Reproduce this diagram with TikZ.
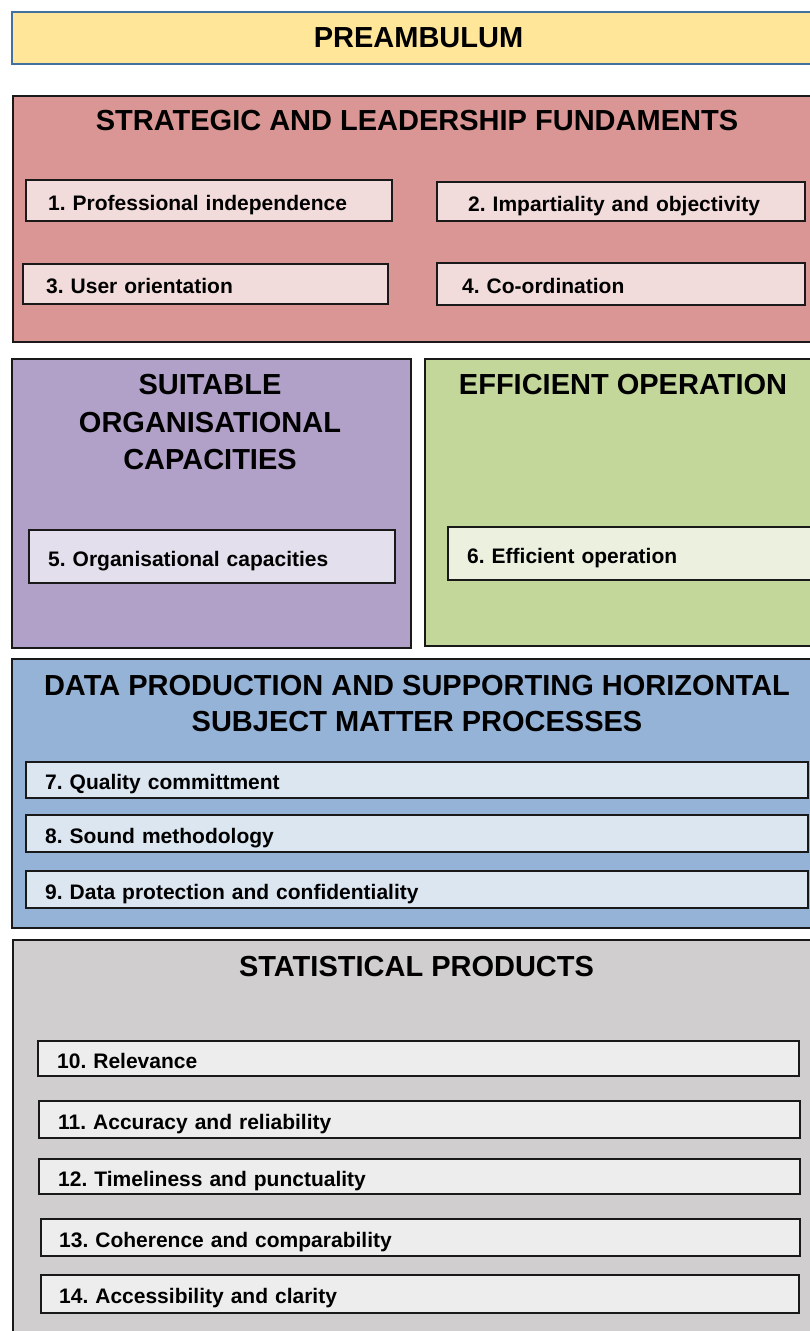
\documentclass[tikz,border=0pt]{standalone}
\usepackage{fontspec}
\setmainfont{Liberation Sans}
\frenchspacing

\definecolor{pre_fill}{HTML}{FFE699}
\definecolor{pre_line}{HTML}{41719C}
\definecolor{strat_fill}{HTML}{DA9694}
\definecolor{strat_item}{HTML}{F2DCDB}
\definecolor{suit_fill}{HTML}{B1A0C7}
\definecolor{suit_item}{HTML}{E4DFEC}
\definecolor{eff_fill}{HTML}{C4D79B}
\definecolor{eff_item}{HTML}{EBF1DE}
\definecolor{data_fill}{HTML}{95B3D7}
\definecolor{data_item}{HTML}{DCE6F1}
\definecolor{stat_fill}{HTML}{D0CECE}
\definecolor{stat_item}{HTML}{EDEDED}

\begin{document}
\begin{tikzpicture}[x=1pt,y=-1pt]
	\tikzstyle{panel_style} = [rectangle,draw=black!90,line width=2.7pt,anchor=north west,inner sep=0pt]
	\tikzstyle{item_style} = [rectangle,draw=black!90,line width=2.4pt,anchor=north west,align=left,inner ysep=0pt,inner xsep=19pt,text height=20pt,text depth=0pt,font=\bfseries\frenchspacing\fontsize{21}{25}\selectfont]
	\tikzstyle{title_style} = [align=center,font=\bfseries\fontsize{29}{37.5}\selectfont]
	\useasboundingbox (0,0) rectangle (810,1331);
	\clip (0,0) rectangle (810,1331);
	% panels
	\node[panel_style,draw=pre_line,line width=2pt,fill=pre_fill,minimum width=813pt,minimum height=52pt,font=\bfseries\fontsize{29}{35}\selectfont] (preamb) at (11,11) {PREAMBULUM};
	\node[panel_style,fill=strat_fill,minimum width=812pt,minimum height=246pt] (strat) at (11.5,94.5) {};
	\node[panel_style,fill=suit_fill,minimum width=399pt,minimum height=289pt] (suit) at (10.5,357.5) {};
	\node[panel_style,fill=eff_fill,minimum width=400pt,minimum height=287pt] (eff) at (423.5,357.5) {};
	\node[panel_style,fill=data_fill,minimum width=812pt,minimum height=269pt] (data) at (10.5,657.5) {};
	\node[panel_style,fill=stat_fill,minimum width=812pt,minimum height=420pt] (stat) at (11.5,938.5) {};
	% titles
	\node[title_style] (strat_title) at (417,121) {STRATEGIC AND LEADERSHIP FUNDAMENTS};
	\node[title_style] (suit_title) at (210,422.5) {SUITABLE\\ORGANISATIONAL\\CAPACITIES};
	\node[title_style] (eff_title) at (623,385) {EFFICIENT OPERATION};
	\node[title_style,font=\bfseries\fontsize{29}{36}\selectfont] (data_title) at (417,704) {DATA PRODUCTION AND SUPPORTING HORIZONTAL\\SUBJECT MATTER PROCESSES};
	\node[title_style] (stat_title) at (416.5,967) {STATISTICAL PRODUCTS};
	% principles
	\node[item_style,fill=strat_item,inner xsep=22pt,text width=321.5pt,minimum height=40.5pt] (p1) at (25,179) {1. Professional independence};
	\node[item_style,fill=strat_item,inner xsep=31pt,text width=305.5pt,minimum height=38.5pt] (p2) at (436,181) {2. Impartiality and objectivity};
	\node[item_style,fill=strat_item,inner xsep=23pt,text width=318.5pt,minimum height=39.5pt] (p3) at (22,263) {3. User orientation};
	\node[item_style,fill=strat_item,inner xsep=25pt,text width=317.5pt,minimum height=41.5pt] (p4) at (436,262) {4. Co-ordination};
	\node[item_style,fill=suit_item,text width=327.5pt,minimum height=52.5pt] (p5) at (28,529) {5. Organisational capacities};
	\node[item_style,fill=eff_item,text width=327.5pt,minimum height=52.5pt] (p6) at (447,526) {6. Efficient operation};
	\node[item_style,fill=data_item,text width=743.5pt,minimum height=35.5pt] (p7) at (25,761) {7. Quality committment};
	\node[item_style,fill=data_item,text width=743.5pt,minimum height=36.5pt] (p8) at (25,814) {8. Sound methodology};
	\node[item_style,fill=data_item,text width=743.5pt,minimum height=36.5pt] (p9) at (25,870) {9. Data protection and confidentiality};
	\node[item_style,fill=stat_item,text width=722.5pt,minimum height=34.5pt] (p10) at (37,1040) {10. Relevance};
	\node[item_style,fill=stat_item,text width=722.5pt,minimum height=36.5pt] (p11) at (38,1100) {11. Accuracy and reliability};
	\node[item_style,fill=stat_item,text width=722.5pt,minimum height=34.5pt] (p12) at (38,1158) {12. Timeliness and punctuality};
	\node[item_style,fill=stat_item,inner xsep=18pt,text width=722.5pt,minimum height=36.5pt] (p13) at (40,1218) {13. Coherence and comparability};
	\node[item_style,fill=stat_item,inner xsep=18pt,text width=721.5pt,minimum height=37.5pt] (p14) at (40,1274) {14. Accessibility and clarity};
\end{tikzpicture}
\end{document}
